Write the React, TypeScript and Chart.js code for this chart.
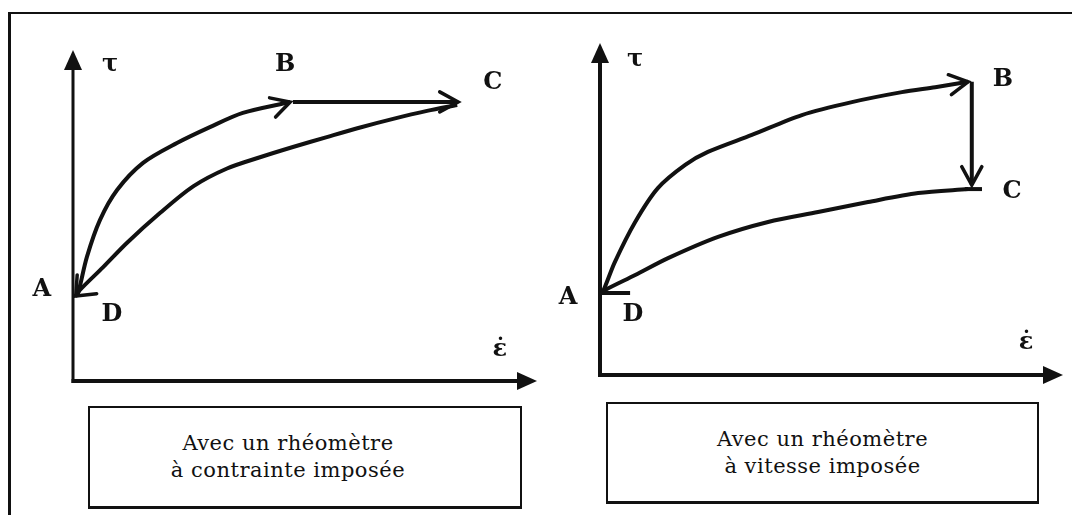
import React, { useEffect, useRef } from "react";
import { Chart, registerables } from "chart.js";
Chart.register(...registerables);

const INK = "#111111";

// ---------- Left panel: rhéomètre à contrainte imposée ----------
const leftLoadX = [0.5, 1.1, 3.0, 5.8, 9.5, 15.1, 22.4, 29.5, 36.6, 46.8];
const leftLoadY = [25.5, 26.6, 37.5, 48.6, 57.7, 65.9, 71.9, 76.7, 81.0, 84.3];
const leftPlateauX = [47.4, 83.0];
const leftPlateauY = [84.3, 84.3];
const leftReturnX = [82.8, 76.3, 69.0, 61.9, 54.7, 47.4, 40.3, 33.2, 25.9, 18.8, 11.6, 6.5, 1.5, 0.6];
const leftReturnY = [83.4, 81.6, 79.2, 76.6, 73.7, 70.7, 67.6, 64.2, 58.8, 50.8, 41.7, 34.4, 27.5, 25.7];
const leftLabelText = ["τ", "B", "C", "A", "D", "ε\u0307"];
const leftLabelX = [8.0, 45.7, 90.5, -6.7, 8.4, 92.0];
const leftLabelY = [95.5, 95.5, 90.0, 27.5, 20.0, 9.4];

// ---------- Right panel: rhéomètre à vitesse imposée ----------
const rightLoadX = [0, 0.6, 3.2, 7.6, 12.5, 18.4, 23.3, 32.8, 43.6, 54.4, 65.2, 72.4, 79.5];
const rightLoadY = [24.4, 25.0, 34.0, 46.1, 56.3, 63.3, 67.2, 72.3, 78.3, 82.2, 85.2, 86.7, 88.3];
const rightDropX = [80.3, 80.3];
const rightDropY = [88.3, 57.2];
const rightCStubX = [78.8, 82.5];
const rightCStubY = [56.0, 56.0];
const rightReturnX = [79.5, 68.7, 57.9, 47.1, 36.3, 25.5, 14.7, 7.6, 1.1, 0];
const rightReturnY = [56.0, 54.8, 52.1, 49.1, 46.1, 41.6, 35.2, 30.1, 25.6, 24.4];
const rightDStubX = [0.4, 6.5];
const rightDStubY = [24.7, 24.7];
const rightLabelText = ["τ", "B", "C", "A", "D", "ε\u0307"];
const rightLabelX = [7.6, 87.0, 89.0, -6.9, 7.1, 92.0];
const rightLabelY = [94.9, 88.9, 55.1, 23.2, 18.1, 9.6];

// ---------- Captions ----------
const leftCaption = ["Avec un rhéomètre", "à contrainte imposée"];
const rightCaption = ["Avec un rhéomètre", "à vitesse imposée"];

function pts(xs: number[], ys: number[]) {
  return xs.map((x, i) => ({ x, y: ys[i] }));
}

function line(xs: number[], ys: number[], extra: any = {}) {
  return {
    data: pts(xs, ys),
    showLine: true,
    borderColor: INK,
    borderWidth: 4,
    pointRadius: 0,
    tension: 0.3,
    fill: false,
    ...extra,
  };
}

function filledHead(ctx: CanvasRenderingContext2D, x: number, y: number, ang: number, len = 20, half = 9) {
  ctx.save();
  ctx.translate(x, y);
  ctx.rotate(ang);
  ctx.beginPath();
  ctx.moveTo(0, 0);
  ctx.lineTo(-len, -half);
  ctx.lineTo(-len, half);
  ctx.closePath();
  ctx.fill();
  ctx.restore();
}

const diagramPlugin = {
  id: "diagram",
  beforeDatasetsDraw(chart: any) {
    const o = chart.options.plugins.diagram;
    const ctx: CanvasRenderingContext2D = chart.ctx;
    const xs = chart.scales.x;
    const ys = chart.scales.y;
    const x0 = xs.getPixelForValue(0);
    const y0 = ys.getPixelForValue(0);
    const xEnd = xs.getPixelForValue(100);
    const yEnd = ys.getPixelForValue(100);
    ctx.save();
    ctx.strokeStyle = INK;
    ctx.fillStyle = INK;
    ctx.lineCap = "butt";
    ctx.lineWidth = o.yAxisWidth;
    ctx.beginPath();
    ctx.moveTo(x0, y0 + o.xAxisWidth / 2);
    ctx.lineTo(x0, yEnd + 15);
    ctx.stroke();
    filledHead(ctx, x0, yEnd, -Math.PI / 2);
    ctx.lineWidth = o.xAxisWidth;
    ctx.beginPath();
    ctx.moveTo(x0 - o.yAxisWidth / 2, y0);
    ctx.lineTo(xEnd - 15, y0);
    ctx.stroke();
    filledHead(ctx, xEnd, y0, 0);
    ctx.restore();
  },
  afterDatasetsDraw(chart: any) {
    const o = chart.options.plugins.diagram;
    const ctx: CanvasRenderingContext2D = chart.ctx;
    const xs = chart.scales.x;
    const ys = chart.scales.y;
    ctx.save();
    ctx.strokeStyle = INK;
    ctx.lineCap = "round";
    chart.data.datasets.forEach((ds: any) => {
      if (!ds.arrowHead) return;
      const d = ds.data;
      const n = d.length;
      const a = d[n - 1];
      const b = d[Math.max(0, n - 1 - (ds.arrowBack || 1))];
      const ax = xs.getPixelForValue(a.x);
      const ay = ys.getPixelForValue(a.y);
      const bx = xs.getPixelForValue(b.x);
      const by = ys.getPixelForValue(b.y);
      const ang = Math.atan2(ay - by, ax - bx);
      const spread = ds.arrowSpread || 0.5;
      const len = ds.arrowLen || 21;
      ctx.lineWidth = 3.5;
      ctx.beginPath();
      ctx.moveTo(ax - len * Math.cos(ang - spread), ay - len * Math.sin(ang - spread));
      ctx.lineTo(ax, ay);
      ctx.lineTo(ax - len * Math.cos(ang + spread), ay - len * Math.sin(ang + spread));
      ctx.stroke();
    });
    ctx.fillStyle = INK;
    ctx.textAlign = "center";
    ctx.textBaseline = "middle";
    ctx.font = "bold 24px 'DejaVu Serif'";
    o.labelText.forEach((t: string, i: number) => {
      ctx.fillText(t, xs.getPixelForValue(o.labelX[i]), ys.getPixelForValue(o.labelY[i]));
    });
    ctx.restore();
  },
};

type PanelProps = {
  left: number;
  width: number;
  height: number;
  padding: { left: number; top: number; right: number; bottom: number };
  datasets: any[];
  labelText: string[];
  labelX: number[];
  labelY: number[];
  xAxisWidth: number;
  yAxisWidth: number;
};

function Panel(p: PanelProps) {
  const ref = useRef<HTMLCanvasElement | null>(null);
  useEffect(() => {
    if (!ref.current) return;
    const chart = new Chart(ref.current, {
      type: "scatter",
      data: { datasets: p.datasets },
      options: {
        animation: false,
        responsive: false,
        devicePixelRatio: 1,
        layout: { padding: p.padding },
        scales: {
          x: { type: "linear", min: 0, max: 100, display: false },
          y: { type: "linear", min: 0, max: 100, display: false },
        },
        plugins: {
          legend: { display: false },
          tooltip: { enabled: false },
          diagram: {
            labelText: p.labelText,
            labelX: p.labelX,
            labelY: p.labelY,
            xAxisWidth: p.xAxisWidth,
            yAxisWidth: p.yAxisWidth,
          },
        } as any,
      },
      plugins: [diagramPlugin as any],
    });
    return () => chart.destroy();
  }, []);
  return (
    <canvas
      ref={ref}
      width={p.width}
      height={p.height}
      style={{ position: "absolute", left: p.left, top: 0, width: p.width, height: p.height }}
    />
  );
}

function Caption({ lines, left, top, width, height, shift }: { lines: string[]; left: number; top: number; width: number; height: number; shift: number }) {
  return (
    <div
      style={{
        position: "absolute",
        left,
        top,
        width,
        height,
        boxSizing: "border-box",
        border: `2px solid ${INK}`,
        borderBottomWidth: 3,
        display: "flex",
        flexDirection: "column",
        justifyContent: "center",
        alignItems: "center",
        paddingRight: shift,
        fontFamily: "'DejaVu Serif', serif",
        fontSize: 21,
        lineHeight: "27px",
        letterSpacing: 0.5,
        color: INK,
      }}
    >
      {lines.map((l, i) => (
        <div key={i}>{l}</div>
      ))}
    </div>
  );
}

export default function App() {
  const leftSets = [
    line(leftLoadX, leftLoadY, { arrowHead: true, arrowBack: 2 }),
    line(leftPlateauX, leftPlateauY, { tension: 0, arrowHead: true }),
    line(leftReturnX, leftReturnY, { arrowHead: true, arrowBack: 3, arrowSpread: 0.7 }),
  ];
  const rightSets = [
    line(rightLoadX, rightLoadY, { arrowHead: true, arrowBack: 2 }),
    line(rightDropX, rightDropY, { tension: 0, arrowHead: true }),
    line(rightCStubX, rightCStubY, { tension: 0 }),
    line(rightReturnX, rightReturnY),
    line(rightDStubX, rightDStubY, { tension: 0 }),
  ];
  return (
    <div style={{ position: "absolute", left: 0, top: 0, width: 1072, height: 515, background: "#fff", overflow: "hidden" }}>
      <div
        style={{
          position: "absolute",
          left: 8,
          top: 12,
          width: 1100,
          height: 600,
          borderLeft: `3px solid ${INK}`,
          borderTop: `2px solid ${INK}`,
        }}
      />
      <Panel
        left={0}
        width={540}
        height={400}
        padding={{ left: 73, top: 50, right: 3, bottom: 19 }}
        datasets={leftSets}
        labelText={leftLabelText}
        labelX={leftLabelX}
        labelY={leftLabelY}
        xAxisWidth={4}
        yAxisWidth={3}
      />
      <Panel
        left={540}
        width={532}
        height={400}
        padding={{ left: 60, top: 43, right: 9, bottom: 25 }}
        datasets={rightSets}
        labelText={rightLabelText}
        labelX={rightLabelX}
        labelY={rightLabelY}
        xAxisWidth={4}
        yAxisWidth={4}
      />
      <Caption lines={leftCaption} left={88} top={406} width={434} height={103} shift={34} />
      <Caption lines={rightCaption} left={606} top={402} width={433} height={102} shift={0} />
    </div>
  );
}
